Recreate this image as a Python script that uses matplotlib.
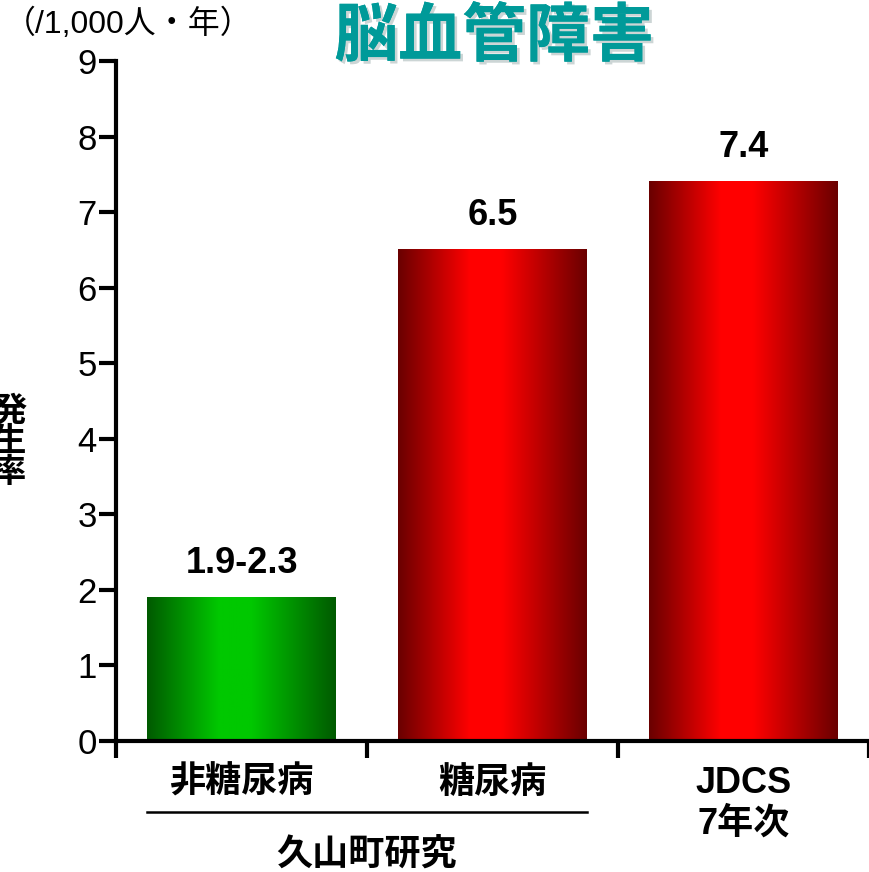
import matplotlib.pyplot as plt
import matplotlib.patheffects as pe
import numpy as np
from matplotlib.colors import LinearSegmentedColormap

plt.rcParams['font.family'] = ['Liberation Sans', 'Noto Sans CJK JP', 'DejaVu Sans']

groups = ['非糖尿病', '糖尿病', 'JDCS\n7年次']
rates = [1.9, 6.5, 7.4]
value_labels = ['1.9-2.3', '6.5', '7.4']
bar_colors = ['green', 'red', 'red']
yticks = list(range(0, 10))

gradients = {
    'green': LinearSegmentedColormap.from_list(
        'g', [(0, '#005a00'), (0.38, '#00c800'), (0.55, '#00c800'), (1, '#005a00')]),
    'red': LinearSegmentedColormap.from_list(
        'r', [(0, '#6a0000'), (0.38, '#ff0000'), (0.55, '#ff0000'), (1, '#6a0000')]),
}

fig = plt.figure(figsize=(8.69, 8.72), dpi=100)
ax = fig.add_axes([0.1335, 0.1502, 0.8665, 0.7798])

x = np.arange(len(groups))
bars = ax.bar(x, rates, width=0.75, color='none', zorder=2)

ramp = np.linspace(0, 1, 256).reshape(1, -1)
for bar, c in zip(bars, bar_colors):
    x0, y0 = bar.get_x(), bar.get_y()
    ax.imshow(ramp, cmap=gradients[c], aspect='auto', zorder=2,
              extent=(x0, x0 + bar.get_width(), y0, y0 + bar.get_height()))

for bar, lab in zip(bars, value_labels):
    ax.text(bar.get_x() + bar.get_width() / 2, bar.get_height() + 0.22, lab,
            ha='center', va='bottom', fontsize=26, fontweight='bold')

ax.set_xlim(-0.5, 2.5)
ax.set_ylim(0, 9)
ax.set_yticks(yticks)
ax.tick_params(axis='y', labelsize=25, width=3, length=12, direction='out', pad=2)
ax.set_xticks([-0.5, 0.5, 1.5, 2.5])
ax.set_xticklabels([])
ax.tick_params(axis='x', width=3, length=12, direction='out')

for side in ['top', 'right']:
    ax.spines[side].set_visible(False)
for side in ['left', 'bottom']:
    ax.spines[side].set_linewidth(3)

# category labels under the axis
for xi, g in zip(x, groups):
    yc = -0.834 if '\n' in g else -0.556
    ax.text(xi, yc, g, ha='center', va='center', fontsize=26,
            fontweight='bold', linespacing=1.2)

# bracket for the Hisayama study
ax.plot([-0.375, 1.375], [-0.94, -0.94], color='black', lw=1.8, clip_on=False)
ax.text(0.5, -1.51, '久山町研究', ha='center', va='center', fontsize=26, fontweight='bold')

fig.text(0.004, 0.972, '（/1,000人・年）', ha='left', va='center', fontsize=23)
fig.text(0.5685, 0.956, '脳血管障害', ha='center', va='center', fontsize=46,
         fontweight='bold', color='#009a99',
         path_effects=[pe.withSimplePatchShadow(offset=(2, -2), alpha=0.2),
                       pe.Normal()])
fig.text(0.011, 0.493, '発\n生\n率', ha='center', va='center', fontsize=24,
         fontweight='bold', linespacing=0.98)

fig.savefig('out.png', dpi=100)
